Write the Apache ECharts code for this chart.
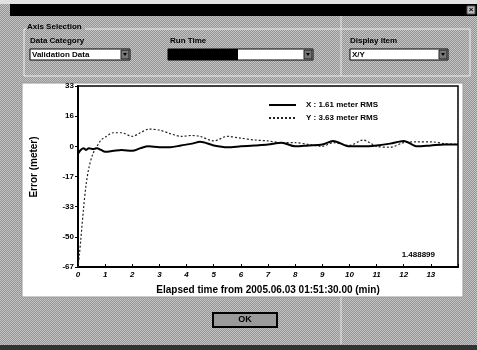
<!DOCTYPE html>
<html>
<head>
<meta charset="utf-8">
<script src="https://cdn.jsdelivr.net/npm/echarts@6/dist/echarts.min.js"></script>
<style>
html, body { margin: 0; padding: 0; }
body {
    width: 477px; height: 350px; overflow: hidden;
    background: #acacac repeating-conic-gradient(#949494 0 25%, #c4c4c4 0 50%) 0 0 / 2px 2px;
}
#main { width: 477px; height: 350px; }
</style>
</head>
<body>
<div id="main"></div>
<script>
// elapsed time (min) and error (meter)
var times = [0, 0.05, 0.1, 0.2, 0.3, 0.4, 0.55, 0.7, 0.85, 1.0, 1.3, 1.6, 2.0, 2.3, 2.6, 3.0, 3.4, 3.8, 4.2, 4.5,
    5.0, 5.5, 6.0, 6.5, 7.0, 7.5, 8.0, 8.5, 9.0, 9.4, 10.0, 10.5, 11.0, 11.5, 12.0, 12.5, 13.0, 13.5, 14.0];
var errX = [-4, -3, -2, -1, -2, -1, -1.5, -1, -2, -3, -2.5, -2, -2.5, -1, 0, -0.5, -0.5, 0.5, 1.5, 2.5,
    0.5, -0.5, 0, 0.5, 1, 2, 0, 0.5, 1, 3, 0, 0, 0.5, 1.5, 3, 0, 0.5, 1, 1];
var errY = [-67, -60, -52, -35, -21, -12, -4, 0, 3.5, 5, 7.5, 7.5, 5.5, 7.5, 9.5, 9, 7, 5.5, 6, 5.5,
    3, 5.5, 4.5, 3.5, 3, 2, 2, 1, 0, 2, 0.5, 3.5, 0, -0.5, 2, 2.5, 2.5, 1.5, 1];

var yTickLabels = ['-67', '-50', '-33', '-17', '0', '16', '33'];
var xTickLabels = ['0', '1', '2', '3', '4', '5', '6', '7', '8', '9', '10', '11', '12', '13'];
var legendNames = ['X : 1.61 meter RMS', 'Y : 3.63 meter RMS'];
var cornerValue = '1.488899';

var FONT = '"Liberation Sans", Arial, sans-serif';

function pairs(vals) {
    return times.map(function (t, i) { return [t, vals[i]]; });
}

function txt(x, y, s, size, extra) {
    var o = {
        type: 'text', z: 5,
        style: {
            text: s, x: x, y: y, fill: '#000',
            font: 'bold ' + size + 'px ' + FONT,
            textAlign: 'left', textVerticalAlign: 'middle',
            align: 'left', verticalAlign: 'middle'
        }
    };
    if (extra) {
        for (var k in extra) o.style[k] = extra[k];
    }
    return o;
}

function combo(x, y, w, label, fillW) {
    var els = [
        { type: 'rect', z: 4, shape: { x: x, y: y, width: w, height: 11 }, style: { fill: '#fff', stroke: '#000', lineWidth: 1 } },
        { type: 'rect', z: 4, shape: { x: x + w - 9, y: y + 1, width: 8, height: 9 }, style: { fill: '#777', stroke: '#222', lineWidth: 1 } },
        { type: 'polygon', z: 5, shape: { points: [[x + w - 7, y + 4], [x + w - 3, y + 4], [x + w - 5, y + 7]] }, style: { fill: '#000' } }
    ];
    if (fillW) {
        els.push({ type: 'rect', z: 5, shape: { x: x, y: y, width: fillW, height: 11 }, style: { fill: '#000' } });
    }
    if (label) {
        els.push(txt(x + 2, y + 6, label, 8));
    }
    return els;
}

var myChart = echarts.init(document.getElementById('main'));

var graphics = [
    // window chrome
    { type: 'rect', z: -2, shape: { x: 0, y: 0, width: 477, height: 4 }, style: { fill: '#e2e2e2' } },
    { type: 'rect', z: -2, shape: { x: 10, y: 4, width: 467, height: 12 }, style: { fill: '#000' } },
    { type: 'rect', z: 4, shape: { x: 467, y: 6, width: 8, height: 8 }, style: { fill: '#bbb', stroke: '#555' } },
    txt(471, 10, '×', 8, { textAlign: 'center', align: 'center' }),
    // group box
    { type: 'polyline', z: -1, shape: { points: [[85, 29], [470, 29], [470, 76], [24, 76], [24, 29], [26, 29]] }, style: { stroke: '#eee', lineWidth: 1, fill: null } },
    { type: 'line', z: -1, shape: { x1: 341, y1: 16, x2: 341, y2: 76 }, style: { stroke: '#e6e6e6', lineWidth: 1 } },
    txt(27, 27, 'Axis Selection', 8),
    txt(30, 41, 'Data Category', 8),
    txt(170, 41, 'Run Time', 8),
    txt(350, 41, 'Display Item', 8),
    // chart panel
    { type: 'rect', z: -1, shape: { x: 22, y: 83, width: 441, height: 214 }, style: { fill: '#fff', stroke: '#999', lineWidth: 1 } },
    { type: 'line', z: -1, shape: { x1: 341, y1: 297, x2: 341, y2: 344 }, style: { stroke: '#e6e6e6', lineWidth: 1 } },
    {
        type: 'text', z: 5, x: 34, y: 167, rotation: Math.PI / 2,
        style: {
            text: 'Error (meter)', x: 0, y: 0, fill: '#000', font: 'bold 10px ' + FONT,
            textAlign: 'center', textVerticalAlign: 'middle', align: 'center', verticalAlign: 'middle'
        }
    },
    txt(435, 255, cornerValue, 8, { textAlign: 'right', align: 'right' }),
    // OK button
    { type: 'rect', z: 4, shape: { x: 213, y: 313, width: 64, height: 14 }, style: { fill: '#9a9a9a', stroke: '#000', lineWidth: 2 } },
    txt(245, 320, 'OK', 9, { textAlign: 'center', align: 'center' }),
    // bottom edge
    { type: 'rect', z: -2, shape: { x: 0, y: 345, width: 477, height: 5 }, style: { fill: '#333' } }
];
graphics = graphics.concat(combo(30, 49, 100, 'Validation Data'), combo(168, 49, 145, '', 70), combo(350, 49, 98, 'X/Y'));

var option = {
    animation: false,
    backgroundColor: 'transparent',
    textStyle: { fontFamily: FONT },
    graphic: graphics,
    grid: {
        left: 78, top: 86, right: 19, bottom: 83,
        show: true, borderColor: '#000', borderWidth: 1.5, backgroundColor: 'transparent'
    },
    legend: {
        orient: 'vertical',
        left: 263, top: 96,
        itemWidth: 27, itemHeight: 6, itemGap: 5,
        itemStyle: { opacity: 0 },
        textStyle: { fontSize: 8, fontWeight: 'bold', color: '#000', fontFamily: FONT, padding: [0, 0, 0, 5] },
        data: legendNames
    },
    xAxis: {
        type: 'value', min: 0, max: 14, interval: 1,
        axisLine: { onZero: false, lineStyle: { color: '#000', width: 2 } },
        axisTick: { inside: true, length: 3, lineStyle: { color: '#000' } },
        splitLine: { show: false },
        axisLabel: {
            color: '#000', fontSize: 8, fontWeight: 'bold', fontStyle: 'italic', margin: 4,
            formatter: function (v) { return xTickLabels[Math.round(v)] || ''; }
        },
        name: 'Elapsed time from 2005.06.03 01:51:30.00 (min)',
        nameLocation: 'middle', nameGap: 18,
        nameTextStyle: { color: '#000', fontSize: 10, fontWeight: 'bold', fontFamily: FONT }
    },
    yAxis: {
        type: 'value', min: -200 / 3, max: 100 / 3, interval: 50 / 3,
        axisLine: { onZero: false, lineStyle: { color: '#000', width: 2 } },
        axisTick: { length: 3, lineStyle: { color: '#000' } },
        splitLine: { show: false },
        axisLabel: {
            color: '#000', fontSize: 8, fontWeight: 'bold', margin: 4,
            formatter: function (v, i) { return yTickLabels[i] !== undefined ? yTickLabels[i] : ''; }
        }
    },
    series: [
        {
            name: legendNames[0], type: 'line', data: pairs(errX), smooth: 0.3,
            symbol: 'none', showSymbol: false, z: 4,
            lineStyle: { color: '#000', width: 2 }
        },
        {
            name: legendNames[1], type: 'line', data: pairs(errY), smooth: 0.3,
            symbol: 'none', showSymbol: false, z: 3,
            lineStyle: { color: '#222', width: 1.2, type: [2, 2] }
        }
    ]
};

myChart.setOption(option);
</script>
</body>
</html>
